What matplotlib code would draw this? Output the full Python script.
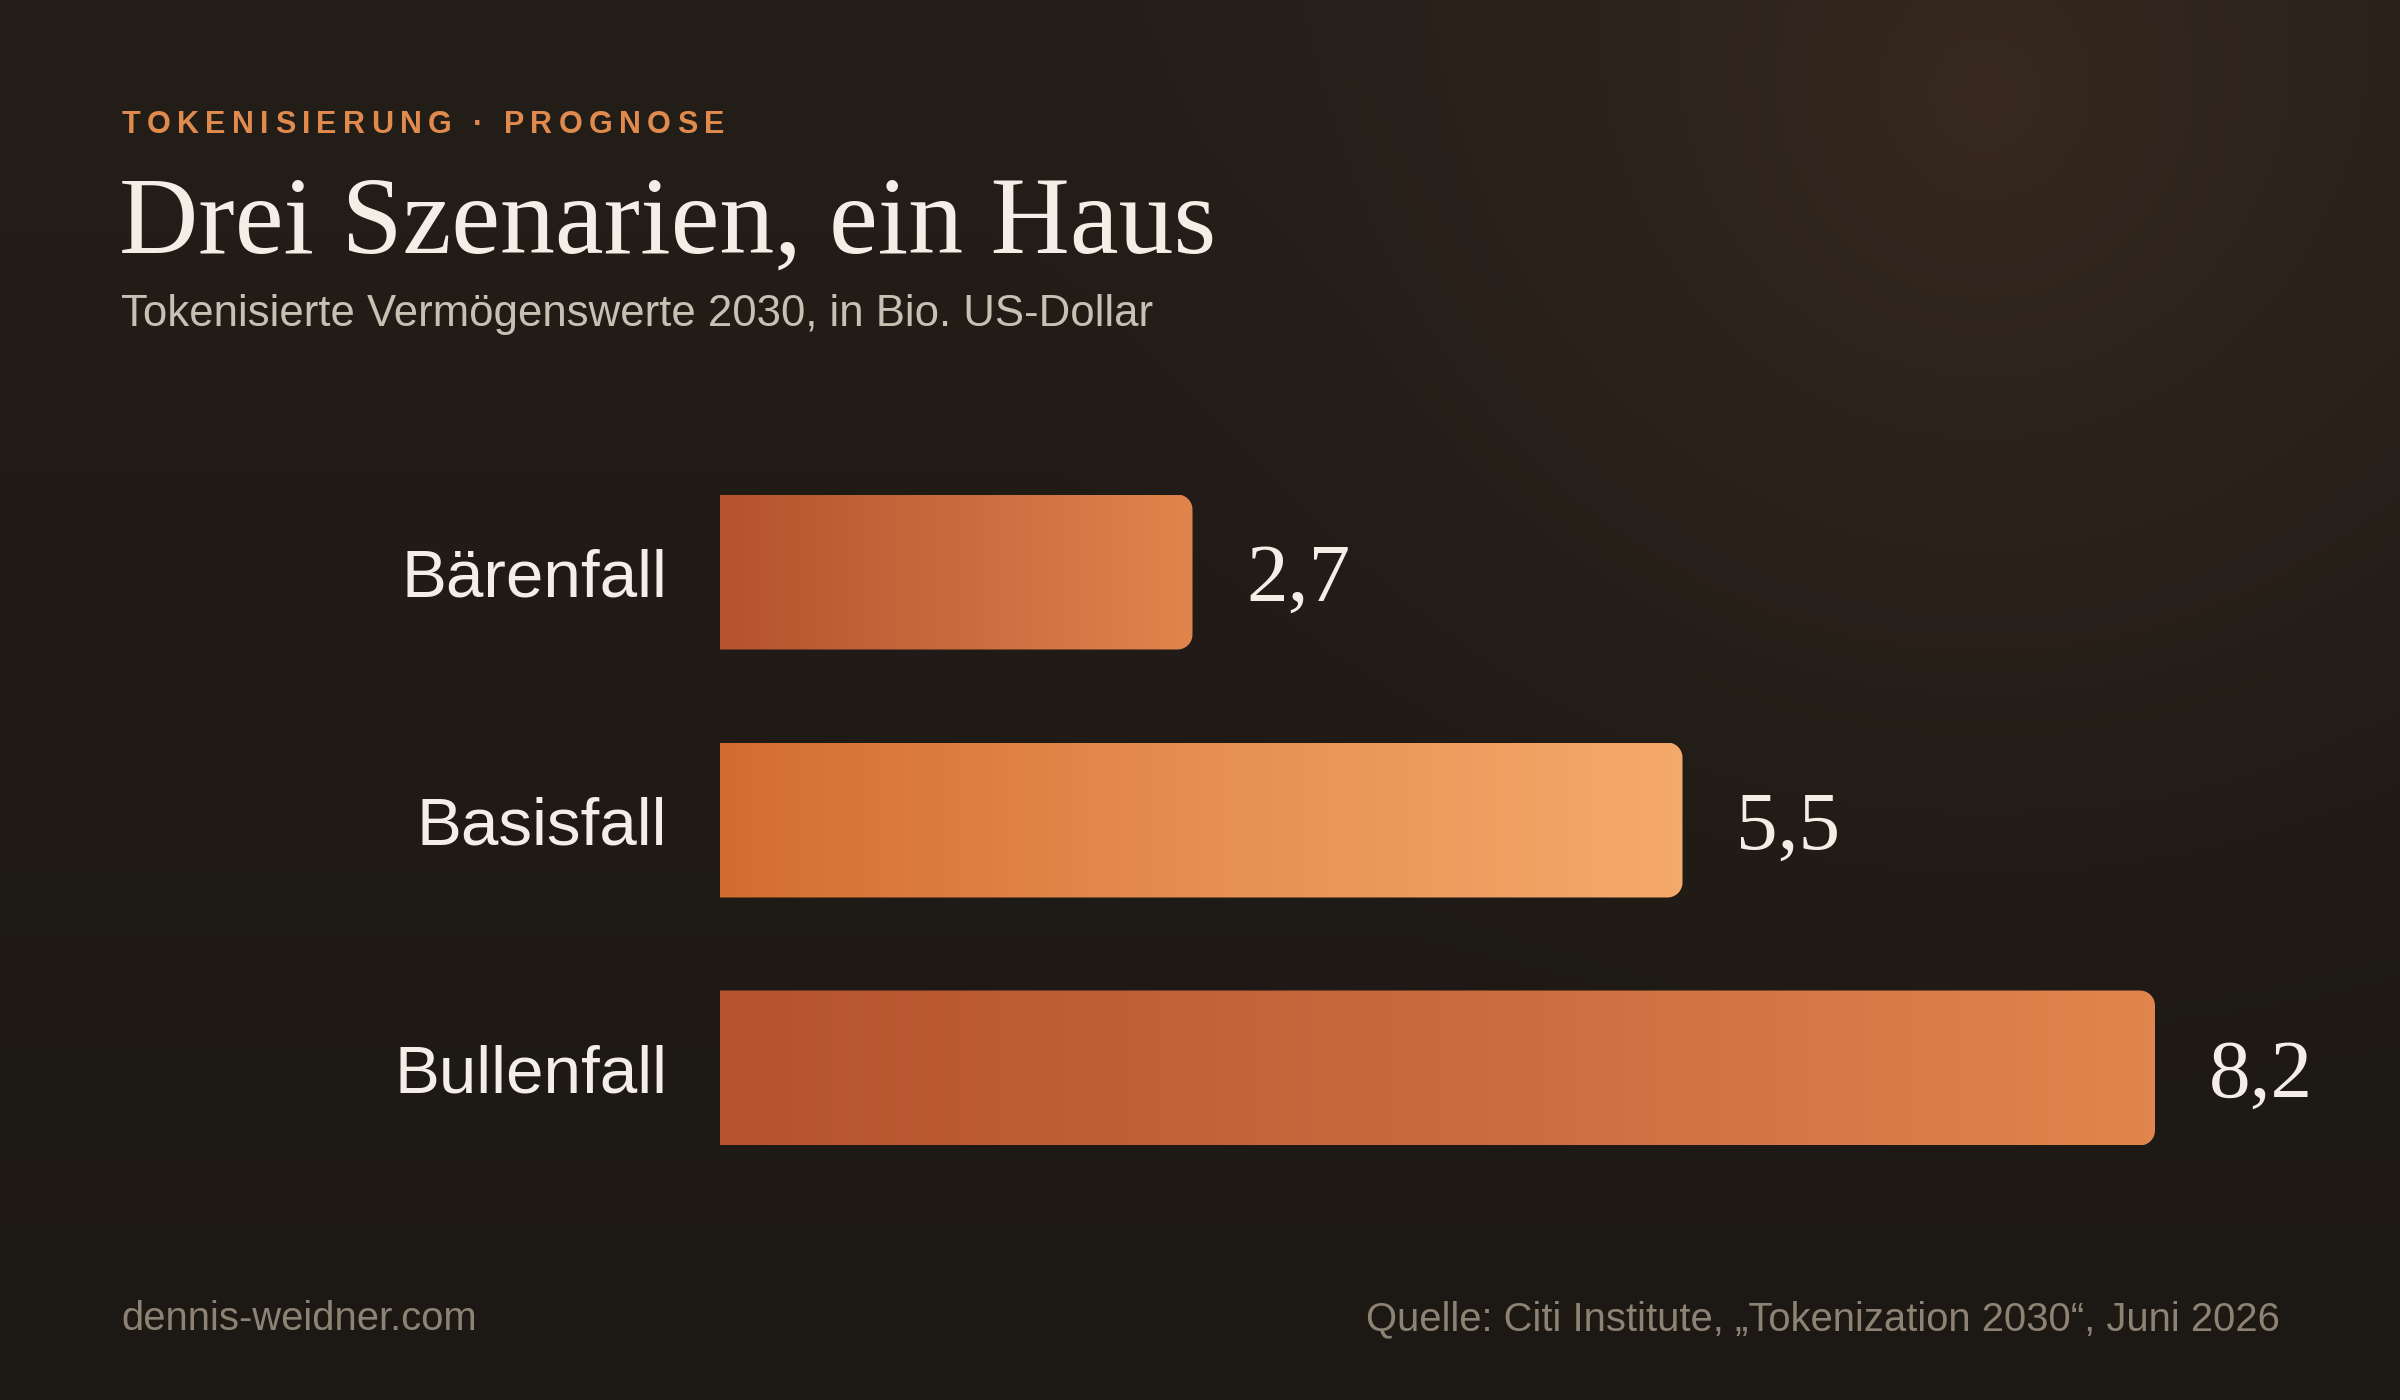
#!/usr/bin/env python3
"""
Tokenisierung - drei Szenarien als horizontale Balken
"""

import numpy as np
import matplotlib
matplotlib.use('Agg')
import matplotlib.pyplot as plt
from matplotlib.colors import LinearSegmentedColormap, to_rgb
from matplotlib.path import Path
from matplotlib.patches import PathPatch

# Data
scenarios = ['Bärenfall', 'Basisfall', 'Bullenfall']
values = [2.7, 5.5, 8.2]
value_labels = ['2,7', '5,5', '8,2']
highlight = [False, True, False]

eyebrow = 'TOKENISIERUNG · PROGNOSE'
title = 'Drei Szenarien, ein Haus'
subtitle = 'Tokenisierte Vermögenswerte 2030, in Bio. US-Dollar'
footer_left = 'dennis-weidner.com'
footer_right = 'Quelle: Citi Institute, „Tokenization 2030“, Juni 2026'

W, H, DPI = 2400, 1400, 100
SANS = ['Liberation Sans', 'DejaVu Sans']
SERIF = ['Liberation Serif', 'DejaVu Serif']

TEXT = '#f4eee6'
SUB = '#c9c0b4'
FOOT = '#8d8374'
ACCENT = '#e08a4e'


def fy(px):
    """pixel from top -> figure fraction"""
    return 1 - px / H


def fx(px):
    return px / W


def background(fig):
    ny, nx = 140, 240
    yy, xx = np.mgrid[0:ny, 0:nx]
    t = yy / (ny - 1)
    top = np.array(to_rgb('#241e19'))
    bottom = np.array(to_rgb('#1c1813'))
    img = top[None, None, :] * (1 - t[..., None]) + bottom[None, None, :] * t[..., None]
    # warm glow top right
    cx, cy = 1980 / W * nx, 90 / H * ny
    d = np.sqrt(((xx - cx) / (nx * 0.42)) ** 2 + ((yy - cy) / (ny * 0.75)) ** 2)
    g = np.clip(1 - d, 0, 1) ** 1.6
    glow = np.array(to_rgb('#37291f'))
    img = img * (1 - g[..., None]) + glow[None, None, :] * g[..., None]
    bg = fig.add_axes([0, 0, 1, 1], zorder=-10)
    bg.imshow(img, aspect='auto', extent=(0, 1, 0, 1), interpolation='bicubic')
    bg.set_xlim(0, 1)
    bg.set_ylim(0, 1)
    bg.axis('off')


def rounded_right(x0, x1, yc, h, rx, ry, n=12):
    """bar outline with rounded right corners (data coords, y inverted)"""
    top, bot = yc - h / 2, yc + h / 2
    verts = [(x0, top), (x1 - rx, top)]
    for a in np.linspace(-np.pi / 2, 0, n):
        verts.append((x1 - rx + rx * np.cos(a), top + ry + ry * np.sin(a)))
    for a in np.linspace(0, np.pi / 2, n):
        verts.append((x1 - rx + rx * np.cos(a), bot - ry + ry * np.sin(a)))
    verts += [(x0, bot), (x0, top)]
    codes = [Path.MOVETO] + [Path.LINETO] * (len(verts) - 2) + [Path.CLOSEPOLY]
    return Path(verts, codes)


def spaced_text(fig, renderer, x_px, y_px, s, size, color, total_px):
    """letter-spaced text placed glyph by glyph"""
    widths = []
    for ch in s:
        if ch == ' ':
            widths.append(size * DPI / 72 * 0.28)
            continue
        t = fig.text(0, 0, ch, fontsize=size, family=SANS, fontweight='bold')
        widths.append(t.get_window_extent(renderer).width)
        t.remove()
    gap = (total_px - sum(widths)) / (len(s) - 1)
    x = x_px
    for ch, w in zip(s, widths):
        if ch != ' ':
            fig.text(fx(x), fy(y_px), ch, fontsize=size, family=SANS,
                     fontweight='bold', color=color, va='baseline', ha='left')
        x += w + gap


def create_chart(output_file):
    fig = plt.figure(figsize=(W / DPI, H / DPI), dpi=DPI)
    background(fig)
    renderer = fig.canvas.get_renderer()

    # header
    spaced_text(fig, renderer, 122, 133, eyebrow, 22, ACCENT, 602)
    fig.text(fx(119), fy(253), title, fontsize=79, family=SERIF, color=TEXT,
             va='baseline', ha='left')
    fig.text(fx(121), fy(326), subtitle, fontsize=31.5, family=SANS, color=SUB,
             va='baseline', ha='left')

    # bars
    ax_left, ax_w = 720, 1600
    ax_top, ax_h = 420, 800
    px_per_unit = 175
    row_px = 248
    ax = fig.add_axes([fx(ax_left), fy(ax_top + ax_h), ax_w / W, ax_h / H])
    off = (572 - ax_top) / row_px
    ax.axis('off')

    bar_h = 155 / row_px
    rx = 15 / px_per_unit
    ry = 15 / row_px
    cmap_std = LinearSegmentedColormap.from_list('std', ['#b4532e', '#c96a3e', '#e0854d'])
    cmap_hi = LinearSegmentedColormap.from_list('hi', ['#d36d2f', '#e68f51', '#f4aa6b'])
    grad = np.linspace(0, 1, 256)[None, :]

    for i, (name, val, lab, hi) in enumerate(zip(scenarios, values, value_labels, highlight)):
        path = rounded_right(0, val, i, bar_h, rx, ry)
        patch = PathPatch(path, facecolor='none', edgecolor='none', transform=ax.transData)
        ax.add_patch(patch)
        im = ax.imshow(grad, cmap=cmap_hi if hi else cmap_std, aspect='auto',
                       extent=(0, val, i + bar_h / 2, i - bar_h / 2),
                       interpolation='bilinear', zorder=2)
        im.set_clip_path(patch)

        ax.annotate(name, xy=(0, i + 24.5 / row_px), xytext=(-53 * 72 / DPI, 0),
                    textcoords='offset points', ha='right', va='baseline',
                    fontsize=48.5, family=SANS, color=TEXT, annotation_clip=False)
        ax.annotate(lab, xy=(val, i + 29 / row_px), xytext=(54 * 72 / DPI, 0),
                    textcoords='offset points', ha='left', va='baseline',
                    fontsize=60, family=SERIF, color=TEXT, annotation_clip=False)

    ax.set_xlim(0, ax_w / px_per_unit)
    ax.set_ylim(ax_h / row_px - off, -off)

    # footer
    fig.text(fx(121), fy(1330), footer_left, fontsize=28.8, family=SANS, color=FOOT,
             va='baseline', ha='left')
    fig.text(fx(2280), fy(1330), footer_right, fontsize=28.8, family=SANS, color=FOOT,
             va='baseline', ha='right')

    fig.savefig(output_file, dpi=DPI)
    plt.close(fig)
    print(f"Saved: {output_file}")


if __name__ == '__main__':
    create_chart('out.png')
